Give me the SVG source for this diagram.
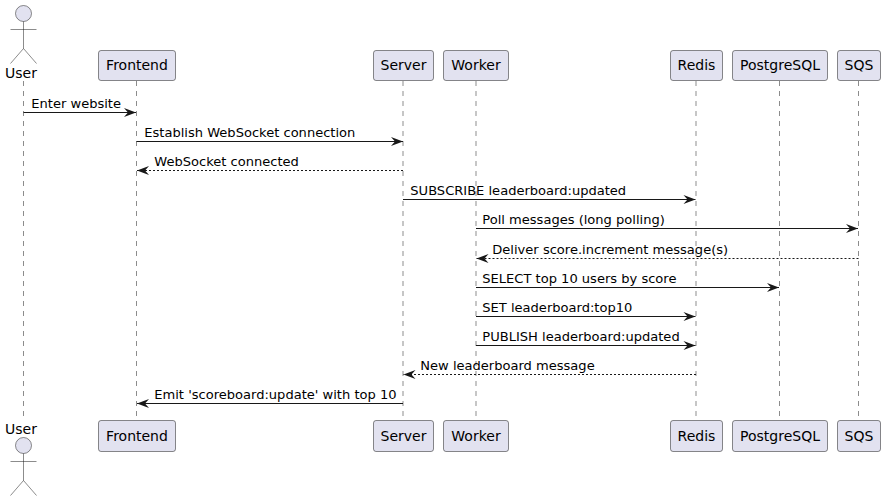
<svg xmlns="http://www.w3.org/2000/svg" width="885" height="501" viewBox="0 0 885 501">
<defs>
<marker id="ah" markerUnits="userSpaceOnUse" markerWidth="14" markerHeight="12" refX="13" refY="6" orient="auto"><path d="M1,1.5 L13,6 L1,10.5 L5,6 Z" fill="#181818"/></marker>
</defs>
<style>
text{font-family:"DejaVu Sans",sans-serif;fill:#000}
.p rect{fill:#E2E2F0;stroke:#181818;stroke-width:.5}
.p text{font-size:14px;text-anchor:middle}
.a circle{fill:#E2E2F0;stroke:#181818;stroke-width:.5}
.a path{fill:none;stroke:#181818;stroke-width:.5}
.a text{font-size:14px;text-anchor:middle}
.life line{stroke:#181818;stroke-width:.5;stroke-dasharray:5 5}
.m line{stroke:#181818;stroke-width:1;marker-end:url(#ah)}
.m line.d{stroke-dasharray:2 2}
.lbl{font-size:13.05px}
</style>
<rect width="885" height="501" fill="#fff"/>
<g class="life" id="lifelines">
<line x1="23.5" y1="81" x2="23.5" y2="420"/>
<line x1="136.5" y1="81" x2="136.5" y2="420"/>
<line x1="403" y1="81" x2="403" y2="420"/>
<line x1="476" y1="81" x2="476" y2="420"/>
<line x1="696" y1="81" x2="696" y2="420"/>
<line x1="779.5" y1="81" x2="779.5" y2="420"/>
<line x1="858.5" y1="81" x2="858.5" y2="420"/>
</g>
<g id="connectors" class="m">
<line x1="23.5" y1="112.5" x2="136" y2="112.5"/>
<line x1="136.5" y1="141.5" x2="403" y2="141.5"/>
<line class="d" x1="403" y1="170.5" x2="137" y2="170.5"/>
<line x1="403" y1="199.5" x2="695.5" y2="199.5"/>
<line x1="476" y1="228.5" x2="858" y2="228.5"/>
<line class="d" x1="858.5" y1="258.5" x2="476.5" y2="258.5"/>
<line x1="476" y1="287.5" x2="779" y2="287.5"/>
<line x1="476" y1="316.5" x2="695.5" y2="316.5"/>
<line x1="476" y1="345.5" x2="695.5" y2="345.5"/>
<line class="d" x1="696" y1="374.5" x2="403.5" y2="374.5"/>
<line x1="403" y1="403.5" x2="137" y2="403.5"/>
</g>
<g id="labels" class="lbl">
<text x="31.3" y="107.7">Enter website</text>
<text x="144.3" y="136.7">Establish WebSocket connection</text>
<text x="154.3" y="165.7">WebSocket connected</text>
<text x="410.3" y="194.7">SUBSCRIBE leaderboard:updated</text>
<text x="482.3" y="223.7">Poll messages (long polling)</text>
<text x="492.3" y="253.7">Deliver score.increment message(s)</text>
<text x="482.3" y="282.7">SELECT top 10 users by score</text>
<text x="482.3" y="311.7">SET leaderboard:top10</text>
<text x="482.3" y="340.7">PUBLISH leaderboard:updated</text>
<text x="420.3" y="369.7">New leaderboard message</text>
<text x="154.3" y="398.7">Emit 'scoreboard:update' with top 10</text>
</g>
<g id="user-top" class="a">
<circle cx="23.5" cy="13.5" r="8"/>
<path d="M23.5,21.5V48.5M10.5,29.5H36.5M23.5,48.5L10.5,63.5M23.5,48.5L36.5,63.5"/>
<text x="21" y="78">User</text>
</g>
<g id="user-bottom" class="a">
<text x="21" y="434">User</text>
<circle cx="23.5" cy="445.5" r="8"/>
<path d="M23.5,453.5V480.5M10.5,461.5H36.5M23.5,480.5L10.5,495.5M23.5,480.5L36.5,495.5"/>
</g>
<g id="frontend-top" class="p"><rect x="98.5" y="50.5" width="77" height="30" rx="2.5"/><text x="137" y="70">Frontend</text></g>
<g id="server-top" class="p"><rect x="373.5" y="50.5" width="60" height="30" rx="2.5"/><text x="403.5" y="70">Server</text></g>
<g id="worker-top" class="p"><rect x="443.5" y="50.5" width="65" height="30" rx="2.5"/><text x="476" y="70">Worker</text></g>
<g id="redis-top" class="p"><rect x="670.5" y="50.5" width="52" height="30" rx="2.5"/><text x="696.5" y="70">Redis</text></g>
<g id="postgresql-top" class="p"><rect x="732.5" y="50.5" width="95" height="30" rx="2.5"/><text x="780" y="70">PostgreSQL</text></g>
<g id="sqs-top" class="p"><rect x="837.5" y="50.5" width="43" height="30" rx="2.5"/><text x="859" y="70">SQS</text></g>
<g id="frontend-bottom" class="p"><rect x="98.5" y="420.5" width="77" height="31" rx="2.5"/><text x="137" y="441">Frontend</text></g>
<g id="server-bottom" class="p"><rect x="373.5" y="420.5" width="60" height="31" rx="2.5"/><text x="403.5" y="441">Server</text></g>
<g id="worker-bottom" class="p"><rect x="443.5" y="420.5" width="65" height="31" rx="2.5"/><text x="476" y="441">Worker</text></g>
<g id="redis-bottom" class="p"><rect x="670.5" y="420.5" width="52" height="31" rx="2.5"/><text x="696.5" y="441">Redis</text></g>
<g id="postgresql-bottom" class="p"><rect x="732.5" y="420.5" width="95" height="31" rx="2.5"/><text x="780" y="441">PostgreSQL</text></g>
<g id="sqs-bottom" class="p"><rect x="837.5" y="420.5" width="43" height="31" rx="2.5"/><text x="859" y="441">SQS</text></g>
</svg>
